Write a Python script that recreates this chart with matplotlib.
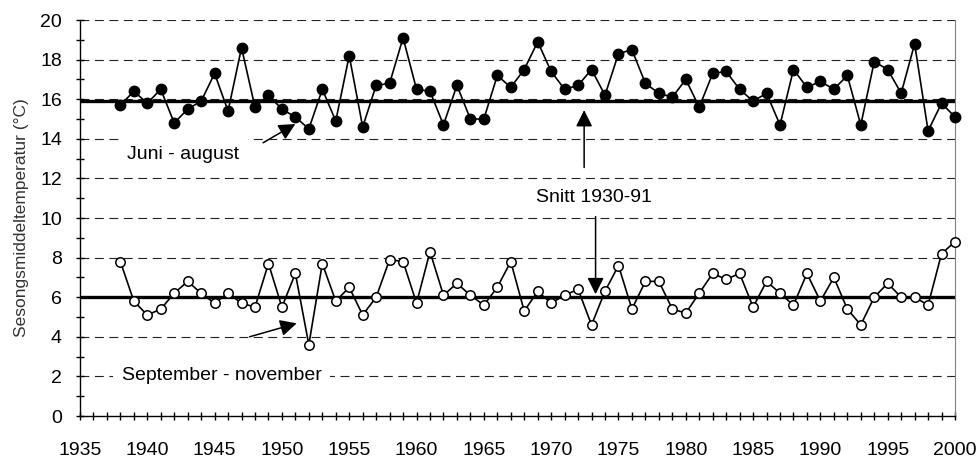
import numpy as np
import matplotlib
matplotlib.use("Agg")
import matplotlib.pyplot as plt
from matplotlib.ticker import MultipleLocator

plt.rcParams['font.family'] = ['Liberation Sans', 'DejaVu Sans']

years = np.arange(1938, 2001)

# Juni - august
summer = [15.7, 16.4, 15.8, 16.5, 14.8, 15.5, 15.9, 17.3, 15.4, 18.6,
          15.6, 16.2, 15.5, 15.1, 14.5, 16.5, 14.9, 18.2, 14.6, 16.7,
          16.8, 19.1, 16.5, 16.4, 14.7, 16.7, 15.0, 15.0, 17.2, 16.6,
          17.5, 18.9, 17.4, 16.5, 16.7, 17.5, 16.2, 18.3, 18.5, 16.8,
          16.3, 16.1, 17.0, 15.6, 17.3, 17.4, 16.5, 15.9, 16.3, 14.7,
          17.5, 16.6, 16.9, 16.5, 17.2, 14.7, 17.9, 17.5, 16.3, 18.8,
          14.4, 15.8, 15.1]

# September - november
autumn = [7.8, 5.8, 5.1, 5.4, 6.2, 6.8, 6.2, 5.7, 6.2, 5.7,
          5.5, 7.7, 5.5, 7.2, 3.6, 7.7, 5.8, 6.5, 5.1, 6.0,
          7.9, 7.8, 5.7, 8.3, 6.1, 6.7, 6.1, 5.6, 6.5, 7.8,
          5.3, 6.3, 5.7, 6.1, 6.4, 4.6, 6.3, 7.6, 5.4, 6.8,
          6.8, 5.4, 5.2, 6.2, 7.2, 6.9, 7.2, 5.5, 6.8, 6.2,
          5.6, 7.2, 5.8, 7.0, 5.4, 4.6, 6.0, 6.7, 6.0, 6.0,
          5.6, 8.2, 8.8]

mean_summer = 15.9
mean_autumn = 6.0

fig = plt.figure(figsize=(9.79, 4.58), dpi=100)
ax = fig.add_axes([0.0817, 0.0917, 0.8938, 0.8646])

ax.set_xlim(1935, 2000)
ax.set_ylim(0, 20)

for v in range(2, 21, 2):
    ax.axhline(v, color='#222222', lw=0.8, dashes=(8, 5), zorder=1)

ax.axhline(mean_summer, color='black', lw=2.4, zorder=2)
ax.axhline(mean_autumn, color='black', lw=2.4, zorder=2)

ax.plot(years, summer, color='black', lw=1.2, marker='o', ms=7.5,
        mfc='black', mec='black', zorder=4, clip_on=False)
ax.plot(years, autumn, color='black', lw=1.2, marker='o', ms=6.8,
        mfc='white', mec='black', mew=1.1, zorder=4, clip_on=False)

arrow = dict(arrowstyle='-|>,head_length=0.5,head_width=0.25', color='black',
             lw=1.1, shrinkA=0, shrinkB=0, mutation_scale=20)
box = dict(facecolor='white', edgecolor='none', pad=6)

ax.text(1938.5, 13.2, 'Juni - august', fontsize=14, va='center', ha='left',
        bbox=box, zorder=3)
ax.annotate('', xy=(1951.0, 14.75), xytext=(1948.6, 13.8), arrowprops=arrow, zorder=5)

ax.text(1938.1, 2.05, 'September - november', fontsize=14, va='center', ha='left',
        bbox=box, zorder=3)
ax.annotate('', xy=(1951.1, 4.68), xytext=(1947.6, 4.0), arrowprops=arrow, zorder=5)

ax.text(1973.2, 11.05, 'Snitt 1930-91', fontsize=14, va='center', ha='center',
        bbox=box, zorder=3)
ax.annotate('', xy=(1972.45, 15.45), xytext=(1972.45, 12.55), arrowprops=arrow, zorder=5)
ax.annotate('', xy=(1973.3, 6.15), xytext=(1973.3, 10.07), arrowprops=arrow, zorder=5)

ax.xaxis.set_major_locator(MultipleLocator(5))
ax.xaxis.set_minor_locator(MultipleLocator(1))
ax.yaxis.set_major_locator(MultipleLocator(2))
ax.yaxis.set_minor_locator(MultipleLocator(1))
ax.tick_params(axis='both', which='both', direction='inout', length=6, width=1)
ax.tick_params(axis='x', which='major', labelsize=14, pad=16)
ax.tick_params(axis='y', which='major', labelsize=14, pad=10)

ax.spines['top'].set_visible(False)
ax.spines['right'].set_color('#808080')
ax.spines['right'].set_linewidth(0.8)
ax.spines['left'].set_linewidth(1)
ax.spines['bottom'].set_linewidth(1)

ax.set_ylabel('Sesongsmiddeltemperatur (°C)', fontsize=12.5, color='#333333')
ax.yaxis.set_label_coords(-0.058, 0.5)

fig.savefig('out.png', dpi=100)
